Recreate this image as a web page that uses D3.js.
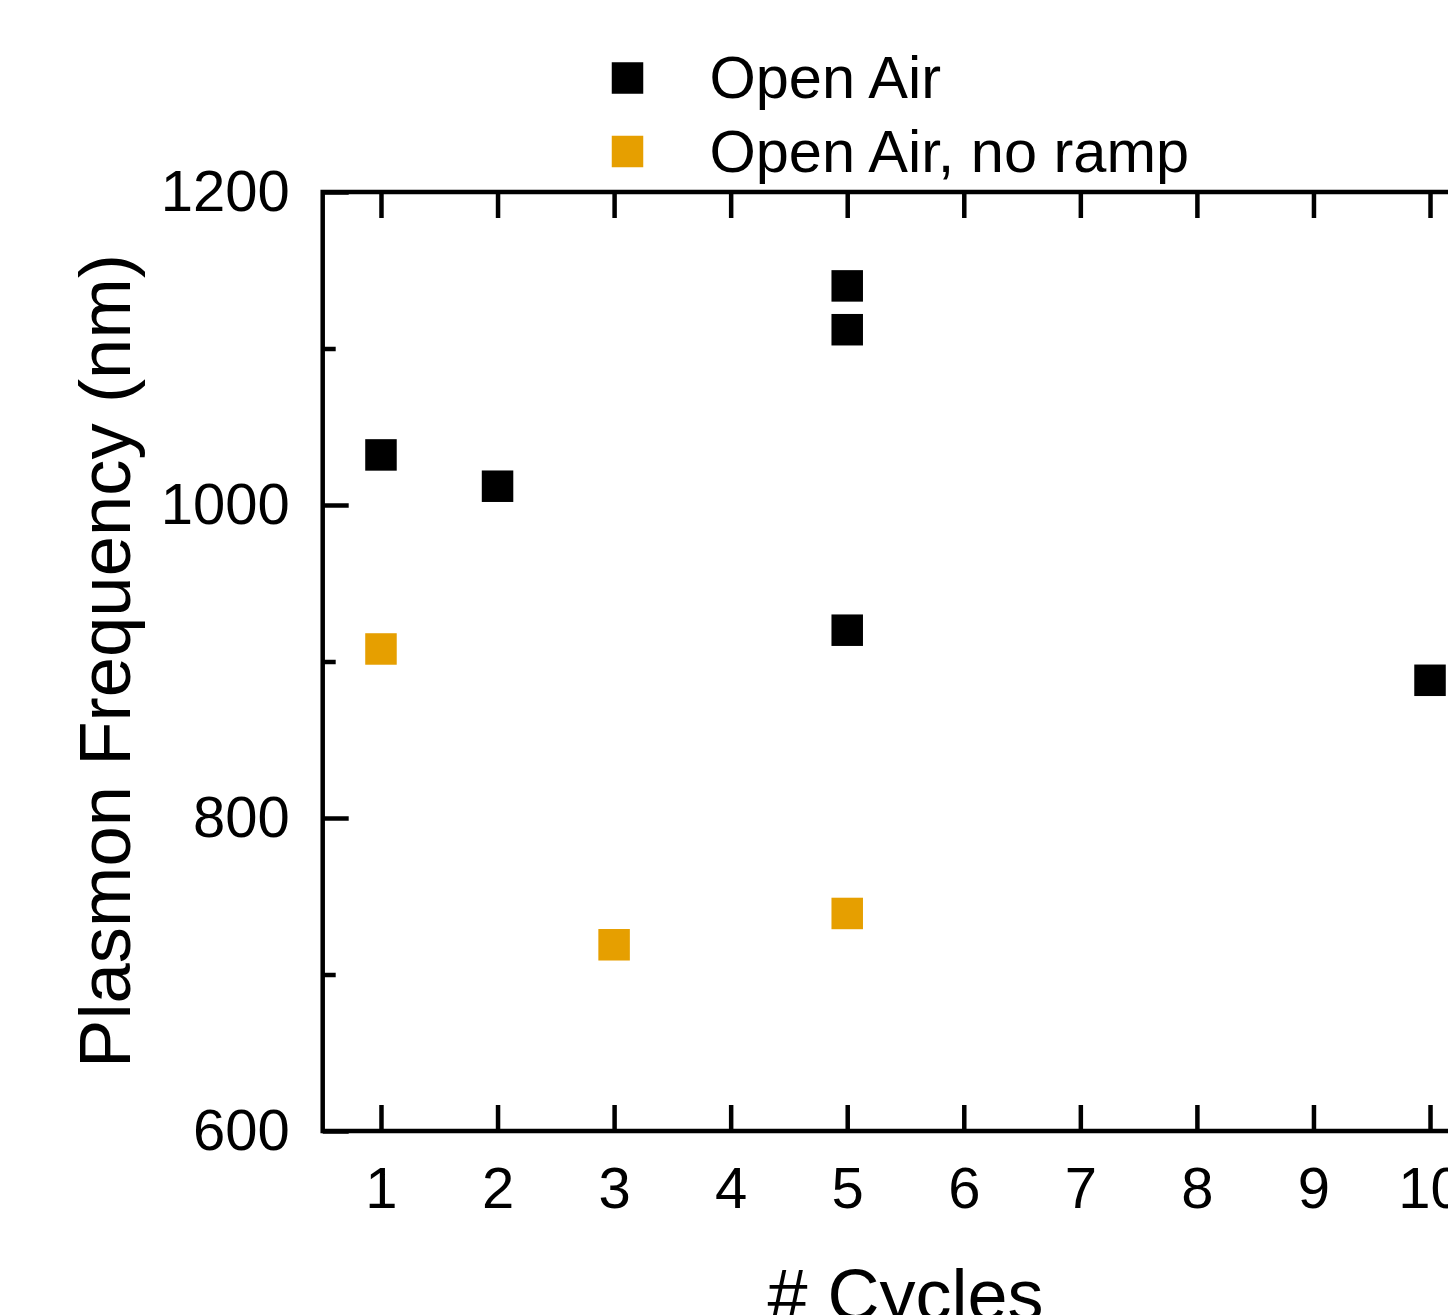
<!DOCTYPE html>
<html>
<head>
<meta charset="utf-8">
<script src="https://cdn.jsdelivr.net/npm/d3@7"></script>
<style>
  body { margin: 0; background: #fff; }
  svg { display: block; font-family: "Liberation Sans", Arial, sans-serif; }
</style>
</head>
<body>
<div id="chart"></div>
<script>
"use strict";

// data
const openAirX = [1, 2, 5, 5, 5, 10];
const openAirY = [1032, 1012, 1140, 1112, 920, 888];

const noRampX = [1, 3, 5];
const noRampY = [908, 719, 739];

const seriesNames = ["Open Air", "Open Air, no ramp"];
const seriesColors = ["#000000", "#e69f00"];

const xTicks = [1, 2, 3, 4, 5, 6, 7, 8, 9, 10];
const yMajorTicks = [600, 800, 1000, 1200];
const yMinorTicks = [700, 900, 1100];

const xLabel = "# Cycles";
const yLabel = "Plasmon Frequency (nm)";


const width = 1448;
const height = 1315;
const margin = ({top: 192, bottom: 1131, left: 322.7, right: 1488.3});
const markerSize = 31.5;

const x = d3.scaleLinear()
    .domain([0.5, 10.5])
    .range([margin.left, margin.right]);

const y = d3.scaleLinear()
    .domain([600, 1200])
    .range([margin.bottom, margin.top]);

const svg = d3.select("#chart").append("svg")
    .attr("width", width)
    .attr("height", height);

const tickFont = 58;

// bottom axis, ticks pointing inward
svg.append("g")
    .attr("transform", `translate(0,${margin.bottom})`)
    .call(d3.axisBottom(x).tickValues(xTicks).tickSize(-26).tickPadding(36).tickFormat(d3.format("d")))
    .call(g => g.select(".domain").remove());

// top axis, ticks only
svg.append("g")
    .attr("transform", `translate(0,${margin.top})`)
    .call(d3.axisTop(x).tickValues(xTicks).tickSize(-26).tickFormat(""))
    .call(g => g.select(".domain").remove());

// left axis, major and minor
svg.append("g")
    .attr("transform", `translate(${margin.left},0)`)
    .call(d3.axisLeft(y).tickValues(yMajorTicks).tickSize(-26).tickPadding(33).tickFormat(d3.format("d")))
    .call(g => g.select(".domain").remove());

svg.append("g")
    .attr("transform", `translate(${margin.left},0)`)
    .call(d3.axisLeft(y).tickValues(yMinorTicks).tickSize(-13).tickFormat(""))
    .call(g => g.select(".domain").remove());

// right axis (mostly off the page)
svg.append("g")
    .attr("transform", `translate(${margin.right},0)`)
    .call(d3.axisRight(y).tickValues(yMajorTicks).tickSize(-26).tickFormat(""))
    .call(g => g.select(".domain").remove());

svg.selectAll(".tick line")
    .attr("stroke", "#000")
    .attr("stroke-width", 4.5);

svg.selectAll(".tick text")
    .attr("fill", "#000")
    .style("font-size", tickFont + "px")
    .style("font-family", "'Liberation Sans', Arial, sans-serif");

// frame
svg.append("rect")
    .attr("x", margin.left)
    .attr("y", margin.top)
    .attr("width", margin.right - margin.left)
    .attr("height", margin.bottom - margin.top)
    .attr("fill", "none")
    .attr("stroke", "#000")
    .attr("stroke-width", 4.5);

// points
const series = [
    {name: seriesNames[0], color: seriesColors[0], xs: openAirX, ys: openAirY},
    {name: seriesNames[1], color: seriesColors[1], xs: noRampX, ys: noRampY}
];

series.forEach(s => {
    svg.append("g")
        .attr("fill", s.color)
    .selectAll("rect")
    .data(s.xs.map((d, i) => [d, s.ys[i]]))
    .join("rect")
        .attr("x", d => x(d[0]) - markerSize / 2)
        .attr("y", d => y(d[1]) - markerSize / 2)
        .attr("width", markerSize)
        .attr("height", markerSize);
});

// legend
const legend = svg.append("g")
    .selectAll("g")
    .data(series)
    .join("g")
        .attr("transform", (d, i) => `translate(627.5,${78 + i * 73.5})`);

legend.append("rect")
    .attr("x", -markerSize / 2)
    .attr("y", -markerSize / 2)
    .attr("width", markerSize)
    .attr("height", markerSize)
    .attr("fill", d => d.color);

legend.append("text")
    .attr("x", 82)
    .attr("y", 20)
    .style("font-size", "59.5px")
    .text(d => d.name);

// axis titles
svg.append("text")
    .attr("x", (margin.left + margin.right) / 2)
    .attr("y", 1320)
    .attr("text-anchor", "middle")
    .style("font-size", "72px")
    .text(xLabel);

svg.append("text")
    .attr("transform", "translate(130,661) rotate(-90)")
    .attr("text-anchor", "middle")
    .style("font-size", "72.5px")
    .text(yLabel);

</script>
</body>
</html>
